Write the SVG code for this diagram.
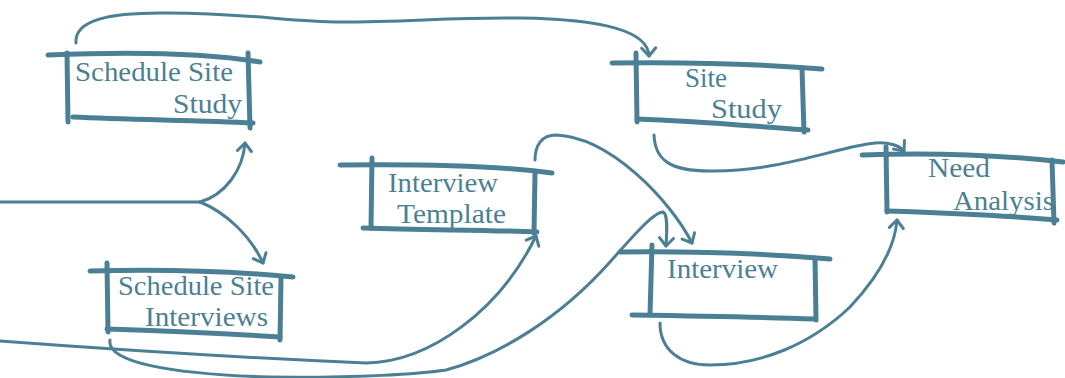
<svg xmlns="http://www.w3.org/2000/svg" width="1065" height="378" viewBox="0 0 1065 378">
<style>
.edge{fill:none;stroke:#4b7f94;stroke-width:3;stroke-linecap:round;stroke-linejoin:round}
.box{fill:none;stroke:#4b7f94;stroke-width:5;stroke-linecap:round}
.lbl{font-family:"Liberation Serif","Times New Roman",serif;font-size:27px;fill:#4b7f94}
</style>
<defs>
<marker id="ah" markerUnits="userSpaceOnUse" markerWidth="20" markerHeight="20" viewBox="-10 -10 20 20" refX="0" refY="0" orient="auto">
<path d="M-8,-7 L0,0 L-8,7" fill="none" stroke="#4b7f94" stroke-width="3" stroke-linecap="round" stroke-linejoin="round"/>
</marker>
</defs>
<rect width="1065" height="378" fill="#ffffff"/>
<g id="connectors">
<path class="edge" marker-end="url(#ah)" d="M76,43 C74,20 110,13 160,13 C240,12 290,22 340,22 C410,22 450,17 520,18 C600,19 648,30 649,56"/>
<path class="edge" d="M0,202 L200,202"/>
<path class="edge" marker-end="url(#ah)" d="M200,202 C225,195 243,170 245,143"/>
<path class="edge" marker-end="url(#ah)" d="M200,202 C225,212 250,235 263,263"/>
<path class="edge" marker-end="url(#ah)" d="M535,160 C535,145 542,135 556,135 C610,137 670,200 692,243"/>
<path class="edge" marker-end="url(#ah)" d="M654,135 C655,160 670,171 710,171 C780,172 840,146 875,143 C890,142 900,146 904,151"/>
<path class="edge" marker-end="url(#ah)" d="M0,341 C120,350 250,358 366,363 C430,362 500,310 536,236"/>
<path class="edge" marker-end="url(#ah)" d="M110,340 C106,362 170,374 268,377 C360,378 420,374 446,370 C500,355 560,318 610,262 C640,228 655,212 663,212 C668,214 667,230 666,246"/>
<path class="edge" marker-end="url(#ah)" d="M660,323 C660,350 680,365 710,365 C760,365 810,345 850,307 C880,275 895,245 897,220"/>
</g>
<g id="schedule-site-study">
<path class="box" d="M48,55 C120,52 200,52 260,62"/>
<path class="box" d="M67,53 L68,122"/>
<path class="box" d="M248,53 L250,128"/>
<path class="box" d="M73,117 C130,120 200,120 253,123"/>
<text class="lbl" x="75" y="81" textLength="158" lengthAdjust="spacingAndGlyphs">Schedule Site</text>
<text class="lbl" x="173" y="113" textLength="69" lengthAdjust="spacingAndGlyphs">Study</text>
</g>
<g id="site-study">
<path class="box" d="M612,63 C680,62 760,64 822,69"/>
<path class="box" d="M636,53 L637,122"/>
<path class="box" d="M802,68 L804,132"/>
<path class="box" d="M637,119 C700,121 760,127 808,130"/>
<text class="lbl" x="685" y="87" textLength="42" lengthAdjust="spacingAndGlyphs">Site</text>
<text class="lbl" x="711" y="118" textLength="71" lengthAdjust="spacingAndGlyphs">Study</text>
</g>
<g id="interview-template">
<path class="box" d="M340,165 C420,164 500,166 552,173"/>
<path class="box" d="M372,158 L371,228"/>
<path class="box" d="M535,173 L534,233"/>
<path class="box" d="M363,228 C430,230 490,230 537,232"/>
<text class="lbl" x="388" y="192" textLength="110" lengthAdjust="spacingAndGlyphs">Interview</text>
<text class="lbl" x="397" y="223" textLength="109" lengthAdjust="spacingAndGlyphs">Template</text>
</g>
<g id="need-analysis">
<path class="box" d="M862,155 C940,152 1010,156 1063,162"/>
<path class="box" d="M886,147 L887,212"/>
<path class="box" d="M1052,160 L1054,223"/>
<path class="box" d="M887,211 C950,213 1010,216 1057,220"/>
<text class="lbl" x="928" y="177" textLength="62" lengthAdjust="spacingAndGlyphs">Need</text>
<text class="lbl" x="953" y="210" textLength="101" lengthAdjust="spacingAndGlyphs">Analysis</text>
</g>
<g id="interview">
<path class="box" d="M620,252 C700,251 770,254 830,259"/>
<path class="box" d="M652,245 L650,315"/>
<path class="box" d="M815,258 L816,320"/>
<path class="box" d="M632,315 C700,316 760,317 815,319"/>
<text class="lbl" x="667" y="278" textLength="111" lengthAdjust="spacingAndGlyphs">Interview</text>
</g>
<g id="schedule-site-interviews">
<path class="box" d="M90,271 C160,269 230,271 293,277"/>
<path class="box" d="M107,263 L108,332"/>
<path class="box" d="M281,278 L280,340"/>
<path class="box" d="M107,329 C170,331 230,334 280,337"/>
<text class="lbl" x="118" y="295" textLength="156" lengthAdjust="spacingAndGlyphs">Schedule Site</text>
<text class="lbl" x="145" y="326" textLength="123" lengthAdjust="spacingAndGlyphs">Interviews</text>
</g>
</svg>
